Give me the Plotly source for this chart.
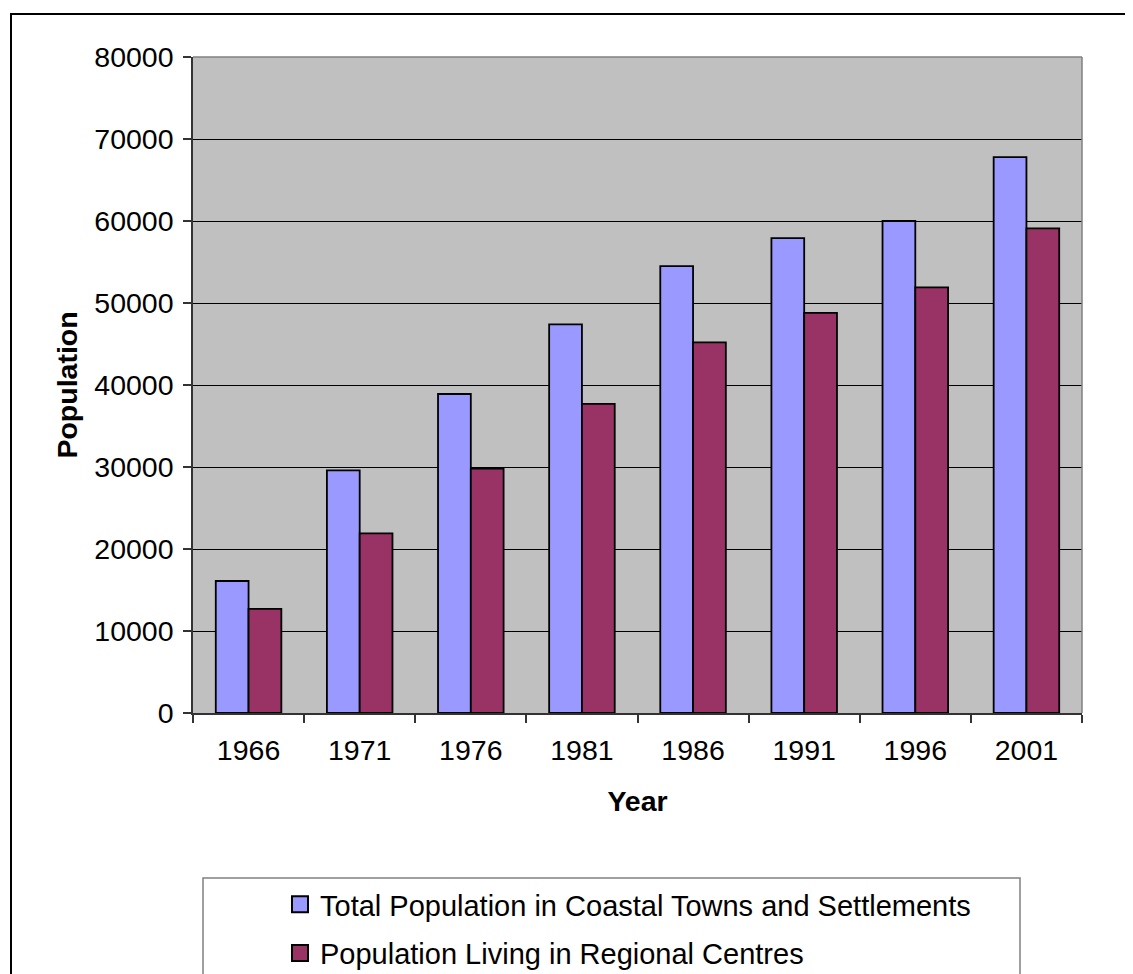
import plotly.graph_objects as go

years = ["1966", "1971", "1976", "1981", "1986", "1991", "1996", "2001"]
coastal_total = [16100, 29600, 38900, 47400, 54500, 57900, 60000, 67800]
regional_centres = [12700, 21900, 29800, 37700, 45200, 48800, 51900, 59100]
series_names = ["Total Population in Coastal Towns and Settlements",
                "Population Living in Regional Centres"]
series_colors = ["#9999FF", "#993366"]
y_ticks = [0, 10000, 20000, 30000, 40000, 50000, 60000, 70000, 80000]

# page body has an 8px margin; figure is sized so it fits the 1133x974 window
OFF = 8
W, H = 1125, 966
ML, MR, MT, MB = 185, 51, 49, 261
PW, PH = W - ML - MR, H - MT - MB


def px(x):  # page pixel -> paper x
    return (x - OFF - ML) / PW


def py(y):  # page pixel -> paper y
    return (H - MB - (y - OFF)) / PH


FONT = "Liberation Sans, Arial, sans-serif"
FS = 28.5
FS_LEG = 29

fig = go.Figure()
for name, vals, col in zip(series_names, [coastal_total, regional_centres], series_colors):
    fig.add_trace(go.Bar(x=years, y=vals, name=name,
                         marker=dict(color=col, line=dict(color="black", width=1.8)),
                         showlegend=False))
for i, (name, col) in enumerate(zip(series_names, series_colors)):
    fig.add_trace(go.Scatter(x=[None], y=[None], mode="markers", name=name, legendgroup=f"g{i}",
                             marker=dict(symbol="square", size=16, color=col,
                                         line=dict(color="black", width=2)),
                             showlegend=True))

fig.update_layout(
    width=W, height=H,
    margin=dict(l=ML, r=MR, t=MT, b=MB, autoexpand=False),
    paper_bgcolor="white", plot_bgcolor="#C0C0C0",
    font=dict(family=FONT, size=FS, color="black"),
    barmode="group", bargap=0.41, bargroupgap=0,
    legend=dict(x=px(280), y=py(879), xanchor="left", yanchor="top", bgcolor="rgba(0,0,0,0)",
                borderwidth=0, font=dict(size=FS_LEG), tracegroupgap=8, itemclick=False),
    xaxis=dict(type="category", tickson="boundaries", ticks="outside", ticklen=8, tickwidth=1.5,
               tickcolor="#333333", showline=True, linecolor="#333333", linewidth=1.5, showgrid=False,
               tickfont=dict(size=FS), ticklabelstandoff=11, automargin=False,
               title=dict(text="<b>Year</b>", font=dict(size=FS), standoff=26)),
    yaxis=dict(range=[0, 80000], tickvals=y_ticks, tickformat="d", ticks="outside", ticklen=8,
               tickwidth=1.5, tickcolor="#333333", showline=True, linecolor="#333333", linewidth=1.5,
               showgrid=True, gridcolor="black", gridwidth=1, zeroline=False,
               tickfont=dict(size=FS), ticklabelstandoff=4, automargin=False,
               title=dict(text="<b>Population</b>", font=dict(size=FS), standoff=8)),
    shapes=[
        dict(type="line", xref="paper", yref="paper", x0=0, x1=1, y0=1, y1=1,
             line=dict(color="#808080", width=1.5), layer="above"),
        dict(type="line", xref="paper", yref="paper", x0=1, x1=1, y0=0, y1=1,
             line=dict(color="#808080", width=1.5), layer="above"),
        dict(type="rect", xref="paper", yref="paper", x0=px(203), x1=px(1020), y0=py(1010), y1=py(878),
             line=dict(color="#808080", width=1.5), fillcolor="rgba(0,0,0,0)", layer="above"),
        dict(type="rect", xref="paper", yref="paper", x0=px(11), x1=px(1131), y0=py(1010), y1=py(14),
             line=dict(color="black", width=2), fillcolor="rgba(0,0,0,0)", layer="above"),
    ],
)

fig.write_html("out.html")
